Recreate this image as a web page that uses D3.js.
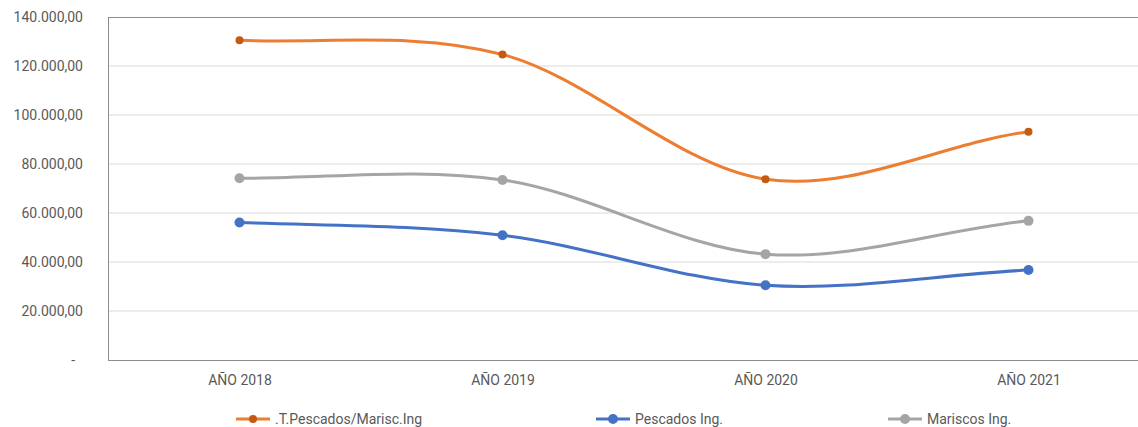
<!DOCTYPE html>
<html><head><meta charset="utf-8">
<script src="https://cdn.jsdelivr.net/npm/d3@7"></script>
<style>body{margin:0;background:#fff}svg{display:block}text{font-family:Roboto,"Liberation Sans",sans-serif}</style>
</head><body><div id="c"></div>
<script>
const categories = ["AÑO 2018","AÑO 2019","AÑO 2020","AÑO 2021"];
const totalValues = [130500, 124700, 73800, 93200];
const pescadosValues = [56100, 50900, 30500, 36700];
const mariscosValues = [74200, 73500, 43200, 56800];
const seriesNames = [".T.Pescados/Marisc.Ing","Pescados Ing.","Mariscos Ing."];
const yTicks = [0,20000,40000,60000,80000,100000,120000,140000];

const W=1138,H=427;
const svg=d3.select("#c").append("svg").attr("width",W).attr("height",H);
const L=108,T=17,B=360,R=1160;
const x=d3.scalePoint().domain(categories).range([L,R]).padding(0.5);
const y=d3.scaleLinear().domain([0,140000]).range([B,T]);
const fmt=v=> v===0?"-":d3.formatLocale({decimal:",",thousands:".",grouping:[3]}).format(",.2f")(v);
const FS="14px";

// gridlines
svg.append("g").selectAll("line").data(yTicks.filter(d=>d>0&&d<140000)).join("line")
 .attr("x1",L).attr("x2",W).attr("y1",d=>y(d)).attr("y2",d=>y(d))
 .attr("stroke","#d9d9d9").attr("stroke-width",1);
// frame
svg.append("line").attr("x1",L).attr("x2",W).attr("y1",T+0.5).attr("y2",T+0.5).attr("stroke","#8c8c8c");
svg.append("line").attr("x1",L).attr("x2",W).attr("y1",B+0.5).attr("y2",B+0.5).attr("stroke","#8c8c8c");
svg.append("line").attr("x1",L+0.5).attr("x2",L+0.5).attr("y1",T).attr("y2",B+1).attr("stroke","#8c8c8c");

// y axis labels
const ya=svg.append("g").attr("transform",`translate(${L-25},0)`)
 .call(d3.axisLeft(y).tickValues(yTicks).tickFormat(fmt).tickSize(0).tickPadding(0));
ya.select(".domain").remove();
ya.selectAll("text").attr("fill","#595959").style("font-size",FS);
ya.selectAll(".tick").filter(d=>d===0).select("text").attr("dx","-8");

// x axis labels
const xa=svg.append("g").attr("transform",`translate(0,${B})`)
 .call(d3.axisBottom(x).tickSize(0).tickPadding(15));
xa.select(".domain").remove();
xa.selectAll("text").attr("fill","#595959").style("font-size",FS);

const series=[
 {name:seriesNames[0],vals:totalValues,color:"#ED7D31",mcolor:"#C55A11",r:4},
 {name:seriesNames[1],vals:pescadosValues,color:"#4472C4",mcolor:"#4472C4",r:5},
 {name:seriesNames[2],vals:mariscosValues,color:"#A5A5A5",mcolor:"#A5A5A5",r:5}
];
// smoothed line (Hermite spline in value space, Excel-like)
function smooth(vals){
 const n=vals.length, t=[];
 for(let i=0;i<n;i++){
  if(i===0) t.push((vals[1]-vals[0])*0.75);
  else if(i===n-1) t.push((vals[n-1]-vals[n-2])*0.75);
  else t.push((vals[i+1]-vals[i-1])/2);
 }
 const p=d3.path();
 p.moveTo(x(categories[0]),y(vals[0]));
 for(let i=0;i<n-1;i++){
  const x0=x(categories[i]),x1=x(categories[i+1]),h=x1-x0;
  p.bezierCurveTo(x0+h/3,y(vals[i]+t[i]/3),x1-h/3,y(vals[i+1]-t[i+1]/3),x1,y(vals[i+1]));
 }
 return p.toString();
}
series.forEach(s=>{
 svg.append("path").attr("d",smooth(s.vals)).attr("fill","none").attr("stroke",s.color).attr("stroke-width",3).attr("stroke-linecap","round");
 svg.append("g").selectAll("circle").data(s.vals).join("circle")
  .attr("cx",(d,i)=>x(categories[i])).attr("cy",d=>y(d)).attr("r",s.r).attr("fill",s.mcolor);
});

// legend
const legX=[236,596,888];
series.forEach((s,i)=>{
 const g=svg.append("g").attr("transform",`translate(${legX[i]},419)`);
 g.append("line").attr("x1",0).attr("x2",34).attr("stroke",s.color).attr("stroke-width",3);
 g.append("circle").attr("cx",17).attr("r",s.r).attr("fill",s.mcolor);
 g.append("text").attr("x",39).attr("dy","0.35em").attr("fill","#595959").style("font-size",FS).text(s.name);
});
</script></body></html>
